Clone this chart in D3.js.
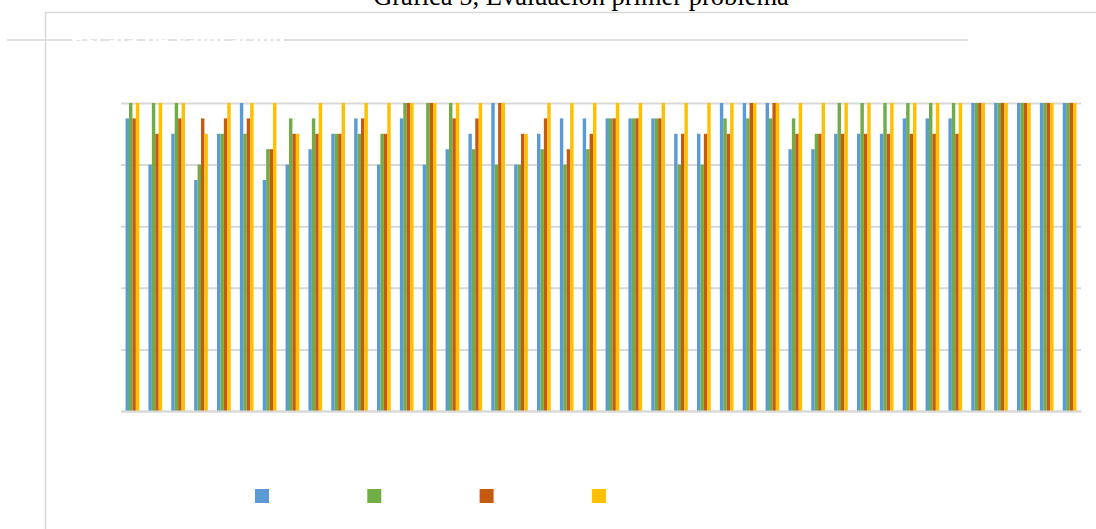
<!DOCTYPE html>
<html>
<head>
<meta charset="utf-8">
<script src="https://cdn.jsdelivr.net/npm/d3@7"></script>
<style>
  html, body { margin: 0; padding: 0; background: #fff; }
  svg { display: block; }
</style>
</head>
<body>
<svg id="chart" width="1096" height="529"></svg>
<script>
// Grades (0–20) given to 42 students on the first problem, four criteria each
const students = d3.range(1, 43).map(String);
const seriesNames = ["Criterio 1", "Criterio 2", "Criterio 3", "Criterio 4"];
const criterio1 = [19,16,18,15,18,20,15,16,17,18,19,16,19,16,17,18,20,16,18,19,19,19,19,19,18,18,20,20,20,17,17,18,18,18,19,19,19,20,20,20,20,20];
const criterio2 = [20,20,20,16,18,18,17,19,19,18,18,18,20,20,20,17,16,16,17,16,17,19,19,19,16,16,19,19,19,19,18,20,20,20,20,20,20,20,20,20,20,20];
const criterio3 = [19,18,19,19,19,19,17,18,18,18,19,18,20,20,19,19,20,18,19,17,18,19,19,19,18,18,18,20,20,18,18,18,18,18,18,18,18,20,20,20,20,20];
const criterio4 = [20,20,20,18,20,20,20,18,20,20,20,20,20,20,20,20,20,18,20,20,20,20,20,20,20,20,20,20,20,20,20,20,20,20,20,20,20,20,20,20,20,20];
const yTicks = [0, 4, 8, 12, 16, 20];
const colors = ["#5b9bd5", "#70ad47", "#c55a11", "#ffc000"];

const series = [criterio1, criterio2, criterio3, criterio4];
const svg = d3.select("#chart");
const frameColor = "#d9d9d9";

// Outer frame pieces
svg.append("line").attr("x1", 45).attr("x2", 1096).attr("y1", 12.5).attr("y2", 12.5)
  .attr("stroke", frameColor).attr("stroke-width", 1.5);
svg.append("line").attr("x1", 45.5).attr("x2", 45.5).attr("y1", 12).attr("y2", 529)
  .attr("stroke", frameColor).attr("stroke-width", 1.5);
svg.append("line").attr("x1", 7).attr("x2", 968).attr("y1", 40).attr("y2", 40)
  .attr("stroke", frameColor).attr("stroke-width", 1.5);
svg.append("text").attr("x", 70).attr("y", 45)
  .attr("font-family", "Liberation Serif").attr("font-size", 16).attr("font-weight", "bold")
  .attr("textLength", 215).attr("lengthAdjust", "spacingAndGlyphs")
  .attr("fill", "#fff").text("Escala de valoración");

// Title (sits at the very top edge of the page)
svg.append("text").attr("x", 581).attr("y", 5)
  .attr("text-anchor", "middle")
  .attr("font-family", "Liberation Serif").attr("font-size", 26.5)
  .attr("fill", "#000").text("Gráfica 5, Evaluación primer problema");

const plot = { left: 121, right: 1081, top: 103, bottom: 411 };

const x0 = d3.scaleBand().domain(students).range([plot.left, plot.right])
  .paddingInner(0.4).paddingOuter(0.2);
const x1 = d3.scaleBand().domain(d3.range(4)).range([0, x0.bandwidth()]);
const y = d3.scaleLinear().domain([0, 20]).range([plot.bottom, plot.top]);

// Gridlines
const yAxis = d3.axisLeft(y).tickValues(yTicks).tickSize(-(plot.right - plot.left)).tickPadding(8);
const gy = svg.append("g").attr("transform", `translate(${plot.left},0)`).call(yAxis);
gy.select(".domain").remove();
gy.selectAll(".tick line").attr("stroke", frameColor).attr("stroke-width", 2);
gy.selectAll(".tick text").attr("fill", "#fff").attr("font-family", "Liberation Serif").attr("font-size", 12);

// Bars
const groups = svg.append("g").selectAll("g").data(students).join("g")
  .attr("transform", d => `translate(${x0(d)},0)`);
groups.selectAll("rect")
  .data((d, i) => series.map((s, k) => ({ k, v: s[i] })))
  .join("rect")
  .attr("x", d => x1(d.k))
  .attr("width", x1.bandwidth())
  .attr("y", d => y(d.v))
  .attr("height", d => y(0) - y(d.v))
  .attr("fill", d => colors[d.k]);

// Category axis (labels in white)
const xAxis = d3.axisBottom(x0).tickSize(0).tickPadding(8);
const gx = svg.append("g").attr("transform", `translate(0,${plot.bottom})`).call(xAxis);
gx.select(".domain").attr("stroke", frameColor).attr("stroke-width", 2);
gx.selectAll(".tick text").attr("fill", "#fff").attr("font-family", "Liberation Serif").attr("font-size", 12);

// Legend
const legend = svg.append("g").selectAll("g").data(seriesNames).join("g")
  .attr("transform", (d, i) => `translate(${255 + i * 112.3},489)`);
legend.append("rect").attr("width", 14).attr("height", 14).attr("fill", (d, i) => colors[i]);
legend.append("text").attr("x", 19).attr("y", 12)
  .attr("font-family", "Liberation Serif").attr("font-size", 14)
  .attr("fill", "#fff").text(d => d);
</script>
</body>
</html>
